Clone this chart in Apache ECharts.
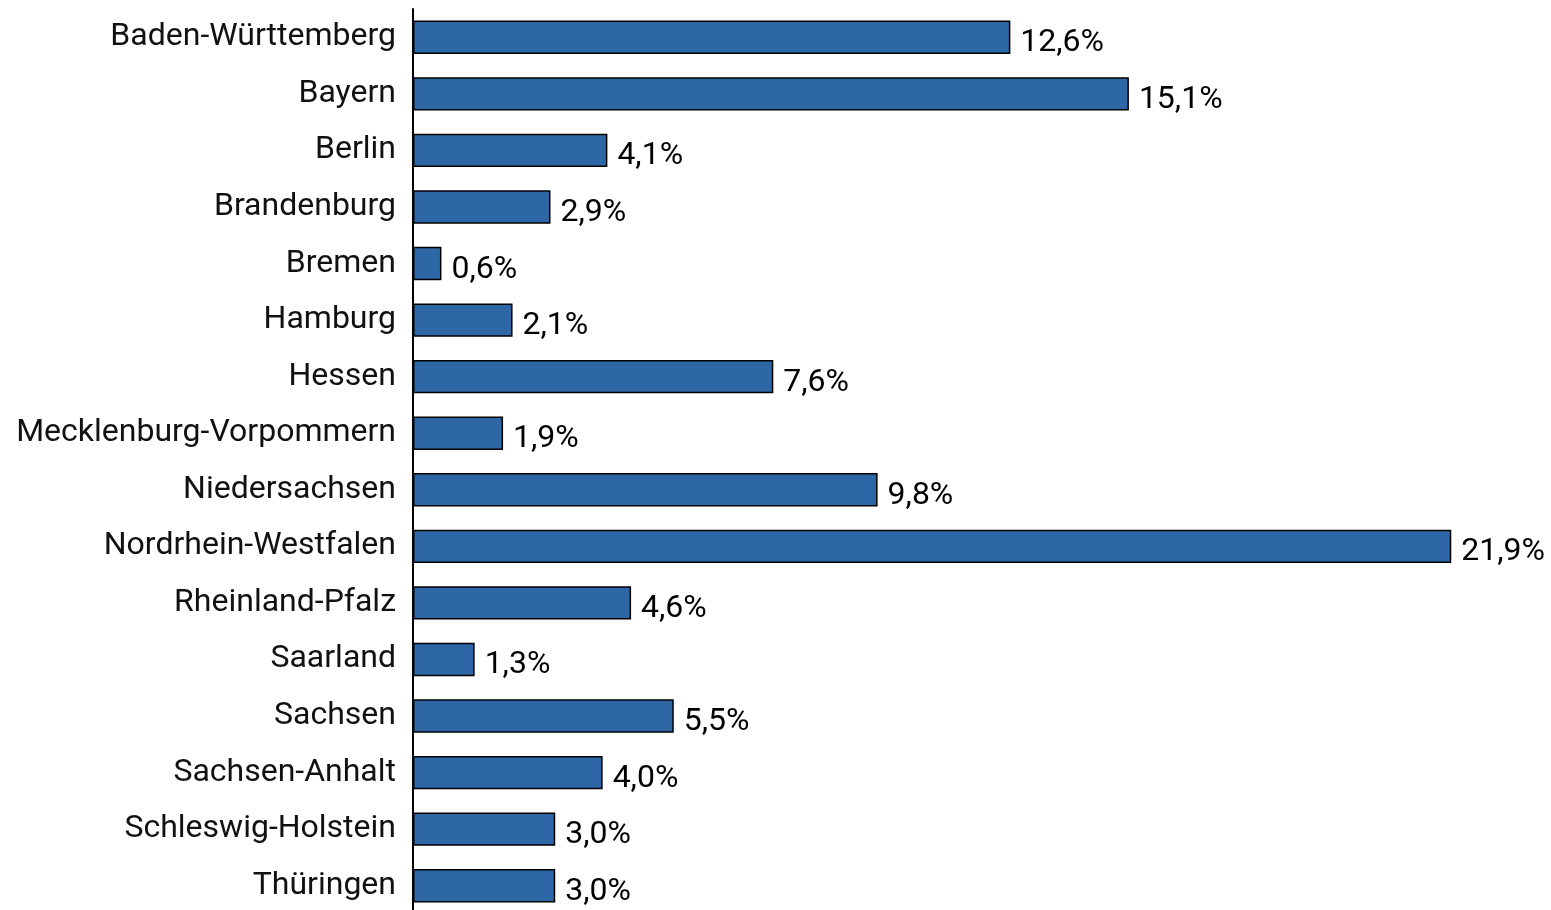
<!DOCTYPE html>
<html><head><meta charset="utf-8">
<script src="https://cdn.jsdelivr.net/npm/echarts@6/dist/echarts.min.js"></script>
<style>html,body{margin:0;padding:0;background:#fff;overflow:hidden}#c{width:1551px;height:916px}</style>
</head><body><div id="c"></div>
<script>
const categories = ["Baden-Württemberg","Bayern","Berlin","Brandenburg","Bremen","Hamburg","Hessen","Mecklenburg-Vorpommern","Niedersachsen","Nordrhein-Westfalen","Rheinland-Pfalz","Saarland","Sachsen","Sachsen-Anhalt","Schleswig-Holstein","Thüringen"];
const values = [12.6,15.1,4.1,2.9,0.6,2.1,7.6,1.9,9.8,21.9,4.6,1.3,5.5,4.0,3.0,3.0];
const chart = echarts.init(document.getElementById('c'));
chart.setOption({
  animation:false,
  grid:{left:413, top:9, right:95, bottom:2, containLabel:false},
  xAxis:{type:'value', min:0, max:22, show:false},
  yAxis:{type:'category', data:categories, inverse:true,
    axisLine:{show:true, lineStyle:{color:'#000', width:2}},
    axisTick:{show:false},
    axisLabel:{color:'#111', fontSize:32, fontFamily:'Roboto', margin:17}},
  series:[{type:'bar', data:values, barCategoryGap:'41%',
    itemStyle:{color:'#2E67A5', borderColor:'#000', borderWidth:1.5},
    label:{show:true, position:'right', distance:10, offset:[0,6], color:'#000', fontSize:32, fontFamily:'Roboto',
      formatter:p=>p.value.toFixed(1).replace('.',',')+'%'}}]
});
</script></body></html>
